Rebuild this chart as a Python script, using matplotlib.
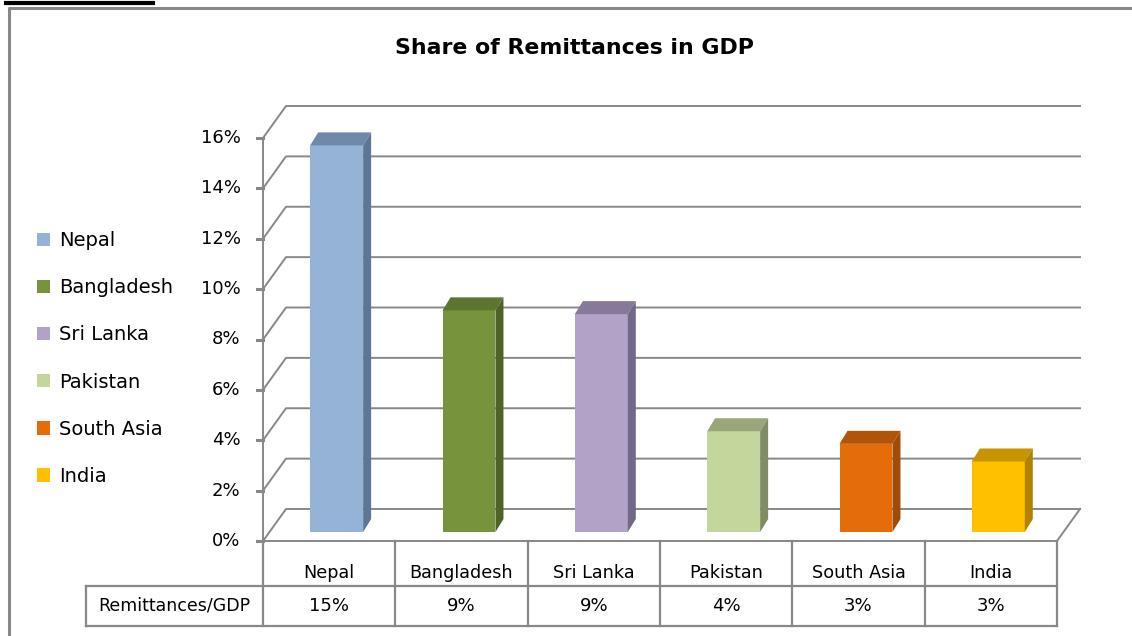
import matplotlib.pyplot as plt
import numpy as np
from matplotlib.patches import Polygon, Patch
from matplotlib.lines import Line2D
from matplotlib.transforms import ScaledTranslation, IdentityTransform

plt.rcParams['font.family'] = ['DejaVu Sans']

# data
countries = ['Nepal', 'Bangladesh', 'Sri Lanka', 'Pakistan', 'South Asia', 'India']
share = [15.35, 8.8, 8.65, 4.0, 3.5, 2.8]   # % of GDP
table_vals = ['15%', '9%', '9%', '4%', '3%', '3%']
yticks = [0, 2, 4, 6, 8, 10, 12, 14, 16]

front_col = ['#95b3d7', '#77933c', '#b3a2c7', '#c3d69b', '#e46c0a', '#ffc000']
top_col = ['#6f89ab', '#5e7530', '#877a99', '#98a679', '#b05408', '#c79500']
side_col = ['#5e7696', '#4f6328', '#736887', '#808c64', '#a04c07', '#b08400']
grid_col = '#888888'

W, H = 1132, 636
fig = plt.figure(figsize=(W / 100, H / 100), dpi=100)
ax = fig.add_axes([263 / W, (H - 541) / H, 794 / W, 403 / H])
ax.set_xlim(0, 6)
ax.set_ylim(0, 16)
ax.axis('off')
ax.set_zorder(2)   # bars above the wall grid

idt = IdentityTransform()
wall = np.array([23, 32])    # depth of the 3d box (pixels)
bdep = np.array([8, 13])     # depth of a bar
bshift = (7.5 / 100, 9 / 100)


def px(x, y):
    return ax.transData.transform((x, y))


def line(pts, **kw):
    pts = np.array(pts)
    fig.add_artist(Line2D(pts[:, 0], pts[:, 1], transform=idt, **kw))


# back wall grid + left wall
for t in yticks:
    f = px(0, t)
    r = px(6, t)
    line([f, f + wall, r + wall], color=grid_col, lw=1.4, zorder=1)
    line([f, f - [6, 0]], color=grid_col, lw=2.2, zorder=1)
    ax.text(-0.17, t, f'{t}%', ha='right', va='center', fontsize=13)
line([px(0, 0), px(0, 16)], color=grid_col, lw=1.4, zorder=1)
line([px(0, 0), px(6, 0), px(6, 0) + wall], color=grid_col, lw=1.4, zorder=1)

# bars
x = np.arange(len(countries)) + 0.5
bw = 0.4
bar_tr = ax.transData + ScaledTranslation(bshift[0], bshift[1], fig.dpi_scale_trans)
ax.bar(x, share, width=bw, color=front_col, transform=bar_tr, zorder=3)
for i, v in enumerate(share):
    tl, tr_, br = bar_tr.transform([(x[i] - bw / 2, v), (x[i] + bw / 2, v), (x[i] + bw / 2, 0)])
    fig.add_artist(Polygon([tl, tr_, tr_ + bdep, tl + bdep], closed=True, transform=idt,
                           facecolor=top_col[i], edgecolor='none', zorder=4))
    fig.add_artist(Polygon([br, tr_, tr_ + bdep, br + bdep], closed=True, transform=idt,
                           facecolor=side_col[i], edgecolor='none', zorder=4))

# data table under the plot
y0 = px(0, 0)[1]
y1, y2 = y0 - 45, y0 - 85
left_x = 86
for k in range(7):
    xx = px(k, 0)[0]
    line([(xx, y0), (xx, y2)], color=grid_col, lw=1.6)
line([(left_x, y1), (px(6, 0)[0], y1)], color=grid_col, lw=1.6)
line([(left_x, y2), (px(6, 0)[0], y2)], color=grid_col, lw=1.6)
line([(left_x, y1), (left_x, y2)], color=grid_col, lw=1.6)
for i, c in enumerate(countries):
    cx = px(x[i], 0)[0]
    fig.text(cx / W, (y0 - 32) / H, c, ha='center', va='center', fontsize=12.7)
    fig.text(cx / W, (y2 + 20) / H, table_vals[i], ha='center', va='center', fontsize=13)
fig.text((left_x + px(0, 0)[0]) / 2 / W, (y2 + 21) / H, 'Remittances/GDP',
         ha='center', va='center', fontsize=12.5)

# title and legend
fig.text(574 / W, (H - 48) / H, 'Share of Remittances in GDP', ha='center', va='center',
         fontsize=15.8, fontweight='bold')
handles = [Patch(facecolor=c, edgecolor='none') for c in front_col]
fig.legend(handles, countries, loc='upper left', bbox_to_anchor=(37 / W, (H - 231) / H),
           frameon=False, fontsize=14, handlelength=0.68, handleheight=0.68,
           labelspacing=1.45, handletextpad=0.45, borderaxespad=0, borderpad=0)

# outer chart frame and cut-off caption line
line([(9, 0), (9, H - 8), (W, H - 8)], color=grid_col, lw=2.2)
line([(6, H - 3), (153, H - 3)], color='black', lw=3)
fig.text(6 / W, (H + 8) / H, 'Figure 1', ha='left', va='bottom', fontsize=13)

fig.savefig('out.png', dpi=100)
